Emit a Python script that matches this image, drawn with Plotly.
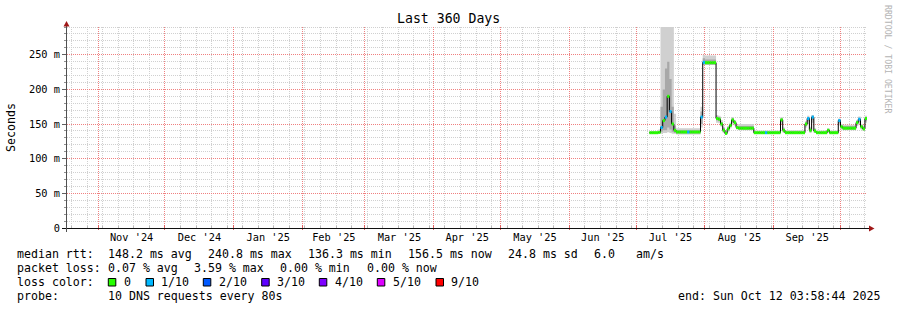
import math
import plotly.graph_objects as go
import pandas as pd

# ---------------- data ----------------
first_day = "2025-07-07"          # first sample, one sample per day
median_ms = [137.5, 137.5, 137.5, 137.5, 138, 145, 155, 160, 190, 168, 150, 141,
             138.5, 138.5, 138.5, 138.5, 138.5, 138.5, 138.5, 138.5, 138.5, 138.5, 138.5,
             160, 239, 238.5, 238.5, 238.5, 238.5, 238.5,
             158, 157, 150, 141, 136.5, 143, 148, 156, 152, 145,
             144, 144, 144, 144, 144, 144, 144,
             137.5, 137.5, 137.5, 137.5, 137.5, 137.5, 137.5, 137.5, 137.5, 137.5, 137.5, 137.5,
             156, 141,
             137.5, 137.5, 137.5, 137.5, 137.5, 137.5, 137.5, 137.5, 137.5,
             150, 158, 141, 160, 140,
             137.5, 137.5, 137.5, 137.5, 137.5, 141, 137.5, 137.5, 137.5, 137.5,
             155, 146, 144, 144, 144, 144, 144, 144,
             152, 157, 146, 143, 158]
loss_count = [0, 0, 0, 0, 0, 1, 0, 1, 0, 1, 0, 0,
              0, 0, 0, 0, 0, 1, 0, 0, 0, 0, 0,
              1, 1, 0, 0, 0, 0, 0,
              0, 0, 0, 0, 0, 0, 0, 0, 0, 0,
              0, 0, 0, 0, 0, 0, 0,
              0, 0, 0, 0, 0, 1, 0, 0, 0, 0, 0, 0,
              0, 0,
              0, 0, 0, 0, 0, 0, 0, 0, 0,
              0, 1, 0, 1, 0,
              0, 0, 0, 0, 0, 0, 0, 0, 0, 0,
              1, 0, 0, 0, 0, 0, 0, 0,
              0, 1, 0, 0, 0]
smoke_lo = [136, 136, 136, 136, 136, 136, 137, 137, 138, 137, 136, 136,
            135, 135, 135, 135, 135, 135, 135, 135, 135, 135, 135,
            145, 235, 235, 235, 235, 235, 235,
            152, 151, 146, 137, 135, 139, 144, 151, 148, 142,
            141, 141, 141, 141, 141, 141, 141,
            136, 136, 136, 136, 136, 136, 136, 136, 136, 136, 136, 136,
            150, 137,
            136, 136, 136, 136, 136, 136, 136, 136, 136,
            145, 150, 137, 152, 137,
            136, 136, 136, 136, 136, 138, 136, 136, 136, 136,
            148, 142, 141, 141, 141, 141, 141, 141,
            147, 150, 142, 140, 152]
smoke_hi = [139.5, 139.5, 139.5, 139.5, 142, 295, 295, 295, 295, 295, 295, 165,
            144, 144, 144, 144, 144, 144, 144, 144, 144, 144, 144,
            175, 250, 249, 249, 249, 249, 249,
            163, 162, 156, 146, 140, 147, 152, 160, 156, 149,
            150, 150, 150, 150, 150, 150, 150,
            140.5, 140.5, 140.5, 140.5, 140.5, 140.5, 140.5, 140.5, 140.5, 140.5, 140.5, 140.5,
            160, 145,
            141, 141, 141, 141, 141, 141, 141, 141, 141,
            154, 162, 146, 163, 144,
            140.5, 140.5, 140.5, 140.5, 140.5, 144, 140.5, 140.5, 140.5, 140.5,
            158, 150, 149, 149, 149, 149, 149, 149,
            156, 161, 150, 148, 162]
core_lo = [136.5, 136.5, 136.5, 136.5, 137, 139, 141, 141, 145, 142, 139, 137,
           136.5, 136.5, 136.5, 136.5, 136.5, 136.5, 136.5, 136.5, 136.5, 136.5, 136.5,
           150, 236, 236, 236, 236, 236, 236,
           155, 154, 148, 139, 135.5, 141, 146, 153, 150, 143,
           142, 142, 142, 142, 142, 142, 142,
           136.5, 136.5, 136.5, 136.5, 136.5, 136.5, 136.5, 136.5, 136.5, 136.5, 136.5, 136.5,
           153, 139,
           136.5, 136.5, 136.5, 136.5, 136.5, 136.5, 136.5, 136.5, 136.5,
           147, 154, 139, 156, 138,
           136.5, 136.5, 136.5, 136.5, 136.5, 139, 136.5, 136.5, 136.5, 136.5,
           151, 144, 142, 142, 142, 142, 142, 142,
           149, 153, 144, 141, 154]
core_hi = [138.5, 138.5, 138.5, 138.5, 140, 175, 200, 230, 240, 215, 175, 148,
           141, 141, 141, 141, 141, 141, 141, 141, 141, 141, 141,
           168, 245, 243, 243, 243, 243, 243,
           161, 160, 153, 144, 138.5, 145, 150, 158, 154, 147,
           147, 147, 147, 147, 147, 147, 147,
           139, 139, 139, 139, 139, 139, 139, 139, 139, 139, 139, 139,
           158, 143,
           139.5, 139.5, 139.5, 139.5, 139.5, 139.5, 139.5, 139.5, 139.5,
           152, 160, 144, 162, 142,
           139, 139, 139, 139, 139, 143, 139, 139, 139, 139,
           157, 148, 147, 147, 147, 147, 147, 147,
           154, 159, 148, 146, 160]

y_major = [0, 50, 100, 150, 200, 250]
y_tick_text = ["0", "50 m", "100 m", "150 m", "200 m", "250 m"]
y_top = 290
x_start, x_end = "2024-10-17 22:09", "2025-10-12 22:09"

rtt_stats = [148.2, 240.8, 136.3, 156.5, 24.8]
am_s = 6.0
loss_stats = [0.07, 3.59, 0.00, 0.00]
loss_names = ["0", "1/10", "2/10", "3/10", "4/10", "5/10", "9/10"]
loss_colors = ["#26ff00", "#00b8ff", "#0059ff", "#5e00ff", "#7e00ff", "#dd00ff", "#ff0000"]
probe_text = "10 DNS requests every 80s"
end_text = "end: Sun Oct 12 03:58:44 2025"
title_text = "Last 360 Days"

# ---------------- geometry helpers ----------------
W, H = 897, 310
L, R, T, B = 67, 30, 27, 82
PW, PH = W - L - R, H - T - B
MONO = "DejaVu Sans Mono"
t0, t1 = pd.Timestamp(x_start), pd.Timestamp(x_end)


def px(x):
    return (x - L) / PW


def py(y):
    return (H - B - y) / PH


def snap(p):
    return math.floor(p) + 0.5


def date_px(d):      # same linear map as the date axis, snapped to a pixel centre
    return snap(L + (d - t0) / (t1 - t0) * PW)


def val_py(v):       # same linear map as the y axis, snapped to a pixel centre
    return snap(H - B - v / y_top * PH)


dates = list(pd.date_range(first_day, periods=len(median_ms), freq="D"))
edges = dates + [dates[-1] + pd.Timedelta(days=1)]

fig = go.Figure()


def step(vals):
    return list(vals) + [vals[-1]]


# smoke: outer band, then inner band
for lo, hi, col in [(smoke_lo, smoke_hi, "#d0d0d0"), (core_lo, core_hi, "#a8a8a8")]:
    fig.add_trace(go.Scatter(x=edges, y=step(lo), mode="lines", line=dict(width=0, shape="hv"),
                             showlegend=False, hoverinfo="skip"))
    fig.add_trace(go.Scatter(x=edges, y=step(hi), mode="lines", line=dict(width=0, shape="hv"),
                             fill="tonexty", fillcolor=col, showlegend=False, hoverinfo="skip"))

# median black line
fig.add_trace(go.Scatter(x=edges, y=step(median_ms), mode="lines",
                         line=dict(color="#000000", width=1, shape="hv"),
                         showlegend=False, hoverinfo="skip"))

# coloured median segments by loss
for lvl in sorted(set(loss_count)):
    xs, ys = [], []
    for i, v in enumerate(median_ms):
        if loss_count[i] == lvl:
            xs += [edges[i], edges[i + 1], None]
            ys += [v, v, None]
    fig.add_trace(go.Scatter(x=xs, y=ys, mode="lines",
                             line=dict(color=loss_colors[lvl], width=3),
                             showlegend=False, hoverinfo="skip", connectgaps=False))

minor_grid = "#d0d0d0"
major_grid = "#f08080"
DOT = "1px,1px"
months = list(pd.date_range("2024-11-01", x_end, freq="MS"))
weeks = [w for w in pd.date_range("2024-10-20", x_end, freq="7D") if w not in months]
y_minor = [v for v in range(10, y_top + 1, 10) if v not in y_major]

shapes = []


def vline(xp, ya, yb, color, dash=None, layer="below"):
    ln = dict(color=color, width=1)
    if dash:
        ln["dash"] = dash
    shapes.append(dict(type="line", xref="paper", yref="paper", x0=px(xp), x1=px(xp),
                       y0=py(ya), y1=py(yb), line=ln, layer=layer))


def hline(yp, xa, xb, color, dash=None, layer="below"):
    ln = dict(color=color, width=1)
    if dash:
        ln["dash"] = dash
    shapes.append(dict(type="line", xref="paper", yref="paper", x0=px(xa), x1=px(xb),
                       y0=py(yp), y1=py(yp), line=ln, layer=layer))


# grid (below traces)
for w in weeks:
    vline(date_px(w), H - B, T, minor_grid, DOT)
for v in y_minor:
    hline(val_py(v), L, L + PW, minor_grid, DOT)
for m in months:
    vline(date_px(m), H - B, T, major_grid, DOT)
for v in y_major[1:]:
    hline(val_py(v), L, L + PW, major_grid, DOT)
# small tick marks on the axes
for w in weeks:
    vline(date_px(w), H - B + 1, H - B - 2, "#b8b8b8", layer="above")
for m in months:
    vline(date_px(m), H - B + 2, H - B - 3, "#e06060", layer="above")

fig.update_layout(
    width=W, height=H, margin=dict(l=L, r=R, t=T, b=B),
    paper_bgcolor="white", plot_bgcolor="white",
    font=dict(family=MONO, size=10.3, color="black"),
    xaxis=dict(type="date", range=[x_start, x_end], tick0="2024-11-01", dtick="M1",
               ticklabelmode="period", tickformat="%b '%y", showgrid=False,
               ticks="", showline=False, zeroline=False, ticklabelstandoff=2,
               tickfont=dict(family=MONO, size=10.3, color="black")),
    yaxis=dict(range=[0, y_top], tickmode="array", tickvals=y_major, ticktext=y_tick_text,
               showgrid=False, ticks="outside", ticklen=4, tickcolor="#606060",
               showline=False, zeroline=False,
               tickfont=dict(family=MONO, size=10.3, color="black"),
               minor=dict(dtick=10, showgrid=False, ticks="outside", ticklen=2,
                          tickcolor="#909090")),
)

# axis lines and arrows
hline(228.5, 62, 869, "#101010", layer="above")
vline(66.5, 232, 25, "#505050", layer="above")
shapes.append(dict(type="path", xref="paper", yref="paper",
                   path=f"M {px(63.5)} {py(26.5)} L {px(69.5)} {py(26.5)} L {px(66.5)} {py(21)} Z",
                   fillcolor="#a01818", line=dict(width=0), layer="above"))
shapes.append(dict(type="path", xref="paper", yref="paper",
                   path=f"M {px(869)} {py(225.5)} L {px(869)} {py(231.5)} L {px(874.5)} {py(228.5)} Z",
                   fillcolor="#a01818", line=dict(width=0), layer="above"))

ann = []


def text(s, x, y, size=11.6, anchor="left", color="black", angle=0):
    ann.append(dict(text=s, x=px(x), y=py(y), xref="paper", yref="paper", xanchor=anchor,
                    yanchor="middle", showarrow=False, textangle=angle, borderpad=0,
                    font=dict(family=MONO, size=size, color=color)))


text(title_text, 448.5, 19, size=13.2, anchor="center")
text("Seconds", 11, 127, size=11.6, anchor="center", angle=-90)
text("RRDTOOL / TOBI OETIKER", 888, 59, size=8.2, anchor="center", color="#b4b4b4", angle=90)

ROW = [254, 268, 282, 296]
text("median rtt:", 16, ROW[0])
for s, x in zip([f"{rtt_stats[0]:.1f} ms avg", f"{rtt_stats[1]:.1f} ms max",
                 f"{rtt_stats[2]:.1f} ms min", f"{rtt_stats[3]:.1f} ms now",
                 f"{rtt_stats[4]:.1f} ms sd", f"{am_s:.1f}", "am/s"],
                [107.3, 207.3, 306.7, 407, 507.3, 593.3, 635]):
    text(s, x, ROW[0])
text("packet loss:", 16, ROW[1])
for s, x in zip([f"{loss_stats[0]:.2f} % avg", f"{loss_stats[1]:.2f} % max",
                 f"{loss_stats[2]:.2f} % min", f"{loss_stats[3]:.2f} % now"],
                [107.3, 193.3, 279.3, 365.7]):
    text(s, x, ROW[1])
text("loss color:", 16, ROW[2])
box_x = [108.3, 146, 203.3, 261.7, 319.3, 377.3, 436]
lab_x = [123.3, 160, 218.3, 276, 334, 391.7, 450]
for name, col, bx, lx in zip(loss_names, loss_colors, box_x, lab_x):
    shapes.append(dict(type="rect", xref="paper", yref="paper", x0=px(bx), x1=px(bx + 7.5),
                       y0=py(286), y1=py(278.5), fillcolor=col,
                       line=dict(color="black", width=1)))
    text(name, lx, ROW[2])
text("probe:", 16, ROW[3])
text(probe_text, 107.3, ROW[3])
text(end_text, 881, ROW[3], anchor="right")

fig.update_layout(shapes=shapes, annotations=ann)
fig.write_html("out.html")
